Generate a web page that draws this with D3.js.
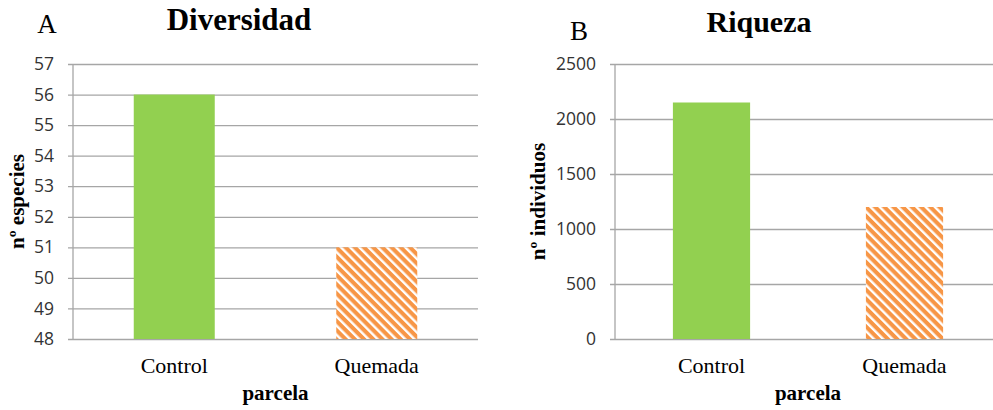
<!DOCTYPE html>
<html>
<head>
<meta charset="utf-8">
<script src="https://cdn.jsdelivr.net/npm/d3@7"></script>
<style>
  html, body { margin: 0; padding: 0; background: #fff; }
  svg { display: block; }
</style>
</head>
<body>
<svg id="chart" width="993" height="410"></svg>
<script>
// ---- data ----
const categories = ["Control", "Quemada"];
const diversidadValues = [56, 51];
const riquezaValues = [2150, 1200];
const diversidadTicks = [48, 49, 50, 51, 52, 53, 54, 55, 56, 57];
const riquezaTicks = [0, 500, 1000, 1500, 2000, 2500];
const panelLetters = ["A", "B"];
const panelTitles = ["Diversidad", "Riqueza"];
const yTitles = ["nº especies", "nº individuos"];
const xTitle = "parcela";

const svg = d3.select("#chart");
const defs = svg.append("defs");
const pat = defs.append("pattern")
  .attr("id", "hatch")
  .attr("patternUnits", "userSpaceOnUse")
  .attr("width", 6.5).attr("height", 6.5)
  .attr("patternTransform", "rotate(-45)");
pat.append("rect").attr("width", 6.5).attr("height", 6.5).attr("fill", "#f79646");
pat.append("rect").attr("x", 0).attr("y", 0).attr("width", 2.4).attr("height", 6.5).attr("fill", "#ffffff");

const fills = ["#92d050", "url(#hatch)"];
const serif = "'Liberation Serif', 'Times New Roman', serif";
const sans = "'Open Sans', 'Liberation Sans', sans-serif";

const panels = [
  { x0: 73, x1: 478, yTop: 64, yBot: 339, domain: [48, 57], ticks: diversidadTicks, values: diversidadValues,
    letter: { x: 47, y: 33, size: 27 }, title: { x: 239, y: 30, size: 31 }, ytitle: { x: 24 } },
  { x0: 615, x1: 1001, yTop: 64, yBot: 339, domain: [0, 2500], ticks: riquezaTicks, values: riquezaValues,
    letter: { x: 579, y: 40, size: 27 }, title: { x: 759, y: 32, size: 30 }, ytitle: { x: 545 } }
];

panels.forEach((p, i) => {
  const g = svg.append("g");
  const x = d3.scaleBand().domain(categories).range([p.x0, p.x1]).paddingInner(0.6).paddingOuter(0.3);
  const y = d3.scaleLinear().domain(p.domain).range([p.yBot, p.yTop]);

  // gridlines + y axis
  const yAxis = d3.axisLeft(y).tickValues(p.ticks).tickFormat(d3.format("d"))
    .tickSize(-(p.x1 - p.x0)).tickSizeOuter(0).tickPadding(19);
  const ya = g.append("g").attr("transform", `translate(${p.x0},0)`).call(yAxis);
  ya.select(".domain").remove();
  ya.selectAll(".tick line").attr("stroke", "#a6a6a6").attr("stroke-width", 1.3).attr("x1", -5);
  ya.selectAll(".tick text").attr("font-family", sans).attr("font-size", 17.5).attr("fill", "#333");
  // vertical axis line
  g.append("line").attr("x1", p.x0).attr("x2", p.x0).attr("y1", p.yTop).attr("y2", p.yBot)
    .attr("stroke", "#a6a6a6").attr("stroke-width", 1.3);

  // bars
  g.selectAll("rect.bar").data(p.values).enter().append("rect")
    .attr("class", "bar")
    .attr("x", (d, j) => x(categories[j]))
    .attr("width", x.bandwidth())
    .attr("y", d => y(d))
    .attr("height", d => y(p.domain[0]) - y(d))
    .attr("fill", (d, j) => fills[j]);

  // category labels
  g.selectAll("text.cat").data(categories).enter().append("text")
    .attr("class", "cat")
    .attr("x", d => x(d) + x.bandwidth() / 2)
    .attr("y", 373)
    .attr("text-anchor", "middle")
    .attr("font-family", serif).attr("font-size", 22).attr("fill", "#000")
    .text(d => d);

  // x title
  g.append("text")
    .attr("x", (x(categories[0]) + x(categories[1]) + x.bandwidth()) / 2)
    .attr("y", 400).attr("text-anchor", "middle")
    .attr("font-family", serif).attr("font-weight", "bold").attr("font-size", 21)
    .text(xTitle);

  // y title
  g.append("text")
    .attr("transform", `translate(${p.ytitle.x},${(p.yTop + p.yBot) / 2}) rotate(-90)`)
    .attr("text-anchor", "middle")
    .attr("font-family", serif).attr("font-weight", "bold").attr("font-size", 21)
    .text(yTitles[i]);

  // panel letter
  g.append("text").attr("x", p.letter.x).attr("y", p.letter.y).attr("text-anchor", "middle")
    .attr("font-family", serif).attr("font-size", p.letter.size).text(panelLetters[i]);

  // title
  g.append("text").attr("x", p.title.x).attr("y", p.title.y).attr("text-anchor", "middle")
    .attr("font-family", serif).attr("font-weight", "bold").attr("font-size", p.title.size)
    .text(panelTitles[i]);
});
</script>
</body>
</html>
